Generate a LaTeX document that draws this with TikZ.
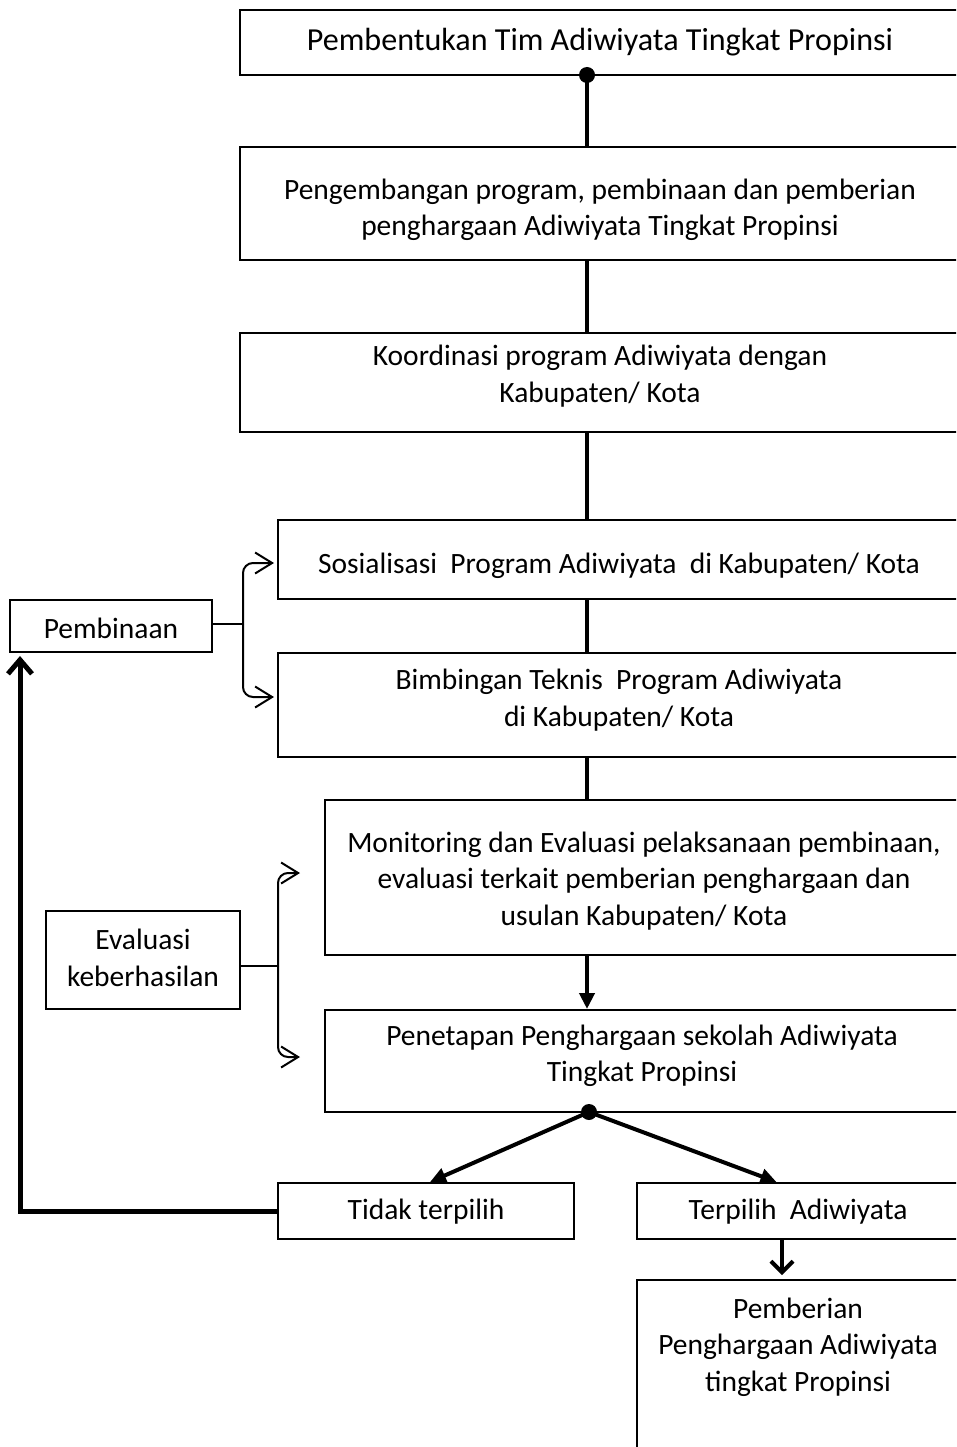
\documentclass[tikz,border=0pt]{standalone}
\usepackage{fontspec}
\setmainfont{Carlito}
\usetikzlibrary{arrows.meta,calc}

\begin{document}
\begin{tikzpicture}[x=1bp,y=-1bp,
    box/.style={draw,line width=2bp,inner sep=0pt},
    txt/.style={align=center,inner sep=0pt,font=\fontsize{29.6}{36.5}\selectfont},
    stem/.style={line width=4bp},
    brace/.style={line width=2bp,rounded corners=10bp,-{Straight Barb[length=17bp,width=21bp]}}]
  \useasboundingbox (0,0) rectangle (956,1447);
  \clip (0,0) rectangle (956,1447);
  \node[box,minimum width=720bp,minimum height=65bp] (tim) at (600,42.5) {};
  \node[box,minimum width=720bp,minimum height=113bp] (prog) at (600,203.5) {};
  \node[box,minimum width=720bp,minimum height=99bp] (koor) at (600,382.5) {};
  \node[box,minimum width=682bp,minimum height=79bp] (sos) at (619,559.5) {};
  \node[box,minimum width=682bp,minimum height=104bp] (bim) at (619,705) {};
  \node[box,minimum width=635bp,minimum height=155bp] (mon) at (642.5,877.5) {};
  \node[box,minimum width=635bp,minimum height=102bp] (pen) at (642.5,1061) {};
  \node[box,minimum width=202bp,minimum height=52bp] (pbn) at (111,626) {};
  \node[box,minimum width=194bp,minimum height=98bp] (eva) at (143,960) {};
  \node[box,minimum width=296bp,minimum height=56bp] (tdk) at (426,1211) {};
  \node[box,minimum width=323bp,minimum height=56bp] (trp) at (798.5,1211) {};
  \node[box,minimum width=323bp,minimum height=180bp] (pem) at (798.5,1370) {};
  \node[txt,font=\fontsize{32.2}{38}\selectfont] (tim-t) at (600,42) {Pembentukan Tim Adiwiyata Tingkat Propinsi};
  \node[txt] (prog-t) at (600,210) {Pengembangan program, pembinaan dan pemberian\\penghargaan Adiwiyata Tingkat Propinsi};
  \node[txt] (koor-t) at (600,376) {Koordinasi program Adiwiyata dengan\\Kabupaten/ Kota};
  \node[txt] (sos-t) at (619,566) {Sosialisasi~ Program Adiwiyata~ di Kabupaten/ Kota};
  \node[txt] (bim-t) at (619,700) {Bimbingan Teknis~ Program Adiwiyata\\di Kabupaten/ Kota};
  \node[txt] (mon-t) at (644,881) {Monitoring dan Evaluasi pelaksanaan pembinaan,\\evaluasi terkait pemberian penghargaan dan\\usulan Kabupaten/ Kota};
  \node[txt] (pen-t) at (642,1056) {Penetapan Penghargaan sekolah Adiwiyata\\Tingkat Propinsi};
  \node[txt] (pbn-t) at (111,628) {Pembinaan};
  \node[txt] (eva-t) at (143,958) {Evaluasi\\keberhasilan};
  \node[txt] (tdk-t) at (426,1212) {Tidak terpilih};
  \node[txt] (trp-t) at (798,1212) {Terpilih~ Adiwiyata};
  \node[txt] (pem-t) at (798,1347) {Pemberian\\Penghargaan Adiwiyata\\tingkat Propinsi};
  \coordinate (dot1) at (587,75);
  \coordinate (dot2) at (589,1112);
  \coordinate (colR) at (782,0);
  \coordinate (colL) at (20,0);
  \coordinate (pj) at (243,624);
  \coordinate (ej) at (278,966);
  \draw[stem] (dot1) -- (dot1 |- prog.north);
  \draw[stem] (prog.south -| dot1) -- (koor.north -| dot1);
  \draw[stem] (koor.south -| dot1) -- (sos.north -| dot1);
  \draw[stem] (sos.south -| dot1) -- (bim.north -| dot1);
  \draw[stem] (bim.south -| dot1) -- (mon.north -| dot1);
  \draw[stem,-{Triangle[length=16bp,width=15bp]}] (mon.south -| dot1) -- (pen.north -| dot1);
  \draw[stem,-{Triangle[length=16bp,width=15bp]}] (dot2) -- ($(tdk.north)+(4,0)$);
  \draw[stem,-{Triangle[length=16bp,width=15bp]}] (dot2) -- ($(trp.north)+(-22,0)$);
  \draw[stem,shorten >=4bp,-{Straight Barb[length=11bp,width=22bp]}] (trp.south -| colR) -- (pem.north -| colR);
  \draw[line width=5bp,shorten >=3bp,-{Straight Barb[length=14bp,width=24bp]}] (tdk.west) -| (colL |- pbn.south);
  \fill (dot1) circle (8bp);
  \fill (dot2) circle (8bp);
  \draw[line width=2bp] (pbn.east |- pj) -- (pj);
  \draw[brace] (pj) |- ($(sos.west)+(-3,3.5)$);
  \draw[brace] (pj) |- ($(bim.west)+(-3,-8)$);
  \draw[line width=2bp] (eva.east |- ej) -- (ej);
  \draw[brace] (ej) |- ($(mon.west)+(-24,-4.5)$);
  \draw[brace] (ej) |- ($(pen.west)+(-24,-4)$);
\end{tikzpicture}
\end{document}
